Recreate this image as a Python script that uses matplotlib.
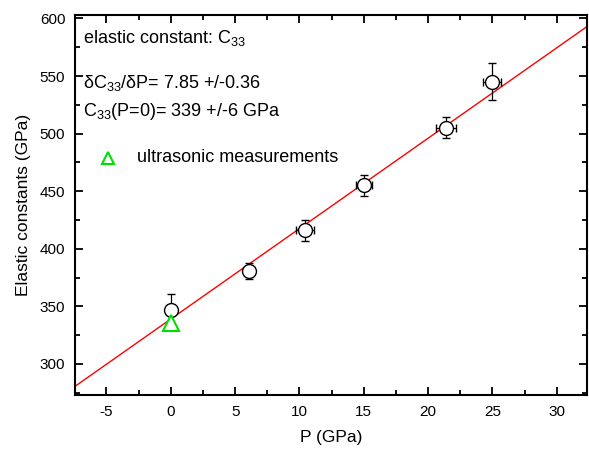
import numpy as np
import matplotlib
matplotlib.use("Agg")
import matplotlib.pyplot as plt
from matplotlib.ticker import MultipleLocator

plt.rcParams['font.family'] = ['Liberation Sans', 'DejaVu Sans']
plt.rcParams['mathtext.fontset'] = 'custom'
plt.rcParams['mathtext.rm'] = 'Liberation Sans'
plt.rcParams['mathtext.it'] = 'Liberation Sans'
plt.rcParams['axes.unicode_minus'] = False

# measured C33 vs pressure
pressure = [0.0, 6.05, 10.45, 15.0, 21.4, 24.95]
c33 = [347.0, 380.5, 416.0, 455.0, 505.0, 545.0]
c33_err = [14, 7, 9, 9, 9, 16]
p_err = [0.0, 0.0, 0.7, 0.6, 0.8, 0.7]

# ultrasonic measurement
us_p = [0.0]
us_c33 = [335.5]

# linear fit
slope = 7.85
intercept = 339.0

fig = plt.figure(figsize=(5.89, 4.5), dpi=100)
ax = fig.add_axes([0.1273, 0.1222, 0.8693, 0.8445])

xlim = (-7.45, 32.35)
xf = np.array(xlim)
ax.plot(xf, intercept + slope * xf, color='red', lw=1.0, zorder=1)

ax.errorbar(pressure, c33, yerr=c33_err, xerr=p_err, fmt='o', ms=10,
            mfc='white', mec='black', mew=1.0, ecolor='black', elinewidth=0.9,
            capsize=3, capthick=0.9, zorder=3)

ax.plot(us_p, us_c33, '^', ms=11, mfc='white', mec='#00e000', mew=1.5, zorder=4)

ax.set_xlim(*xlim)
ax.set_ylim(273, 603)
ax.xaxis.set_major_locator(MultipleLocator(5))
ax.xaxis.set_minor_locator(MultipleLocator(2.5))
ax.yaxis.set_major_locator(MultipleLocator(50))
ax.yaxis.set_minor_locator(MultipleLocator(25))
ax.tick_params(which='both', direction='in', top=True, right=True, width=1.3)
ax.tick_params(which='major', length=6, labelsize=11, pad=7)
ax.tick_params(axis='y', which='major', pad=7)
ax.tick_params(which='minor', length=3.5)
for s in ax.spines.values():
    s.set_linewidth(1.5)

ax.set_xlabel('P (GPa)', fontsize=12.5, labelpad=8)
ax.set_ylabel('Elastic constants (GPa)', fontsize=12.5, labelpad=6)

fs = 13
ax.text(0.015, 0.94, r'elastic constant: C$_{33}$', transform=ax.transAxes,
        fontsize=fs, va='center')
ax.text(0.015, 0.82, r'$\delta$C$_{33}$/$\delta$P= 7.85 +/-0.36', transform=ax.transAxes,
        fontsize=fs, va='center')
ax.text(0.015, 0.747, r'C$_{33}$(P=0)= 339 +/-6 GPa', transform=ax.transAxes,
        fontsize=fs, va='center')
ax.plot([0.064], [0.624], '^', ms=9, mfc='white', mec='#00e000', mew=1.5,
        transform=ax.transAxes)
ax.text(0.122, 0.624, 'ultrasonic measurements', transform=ax.transAxes,
        fontsize=fs, va='center')

fig.savefig('out.png', dpi=100)
